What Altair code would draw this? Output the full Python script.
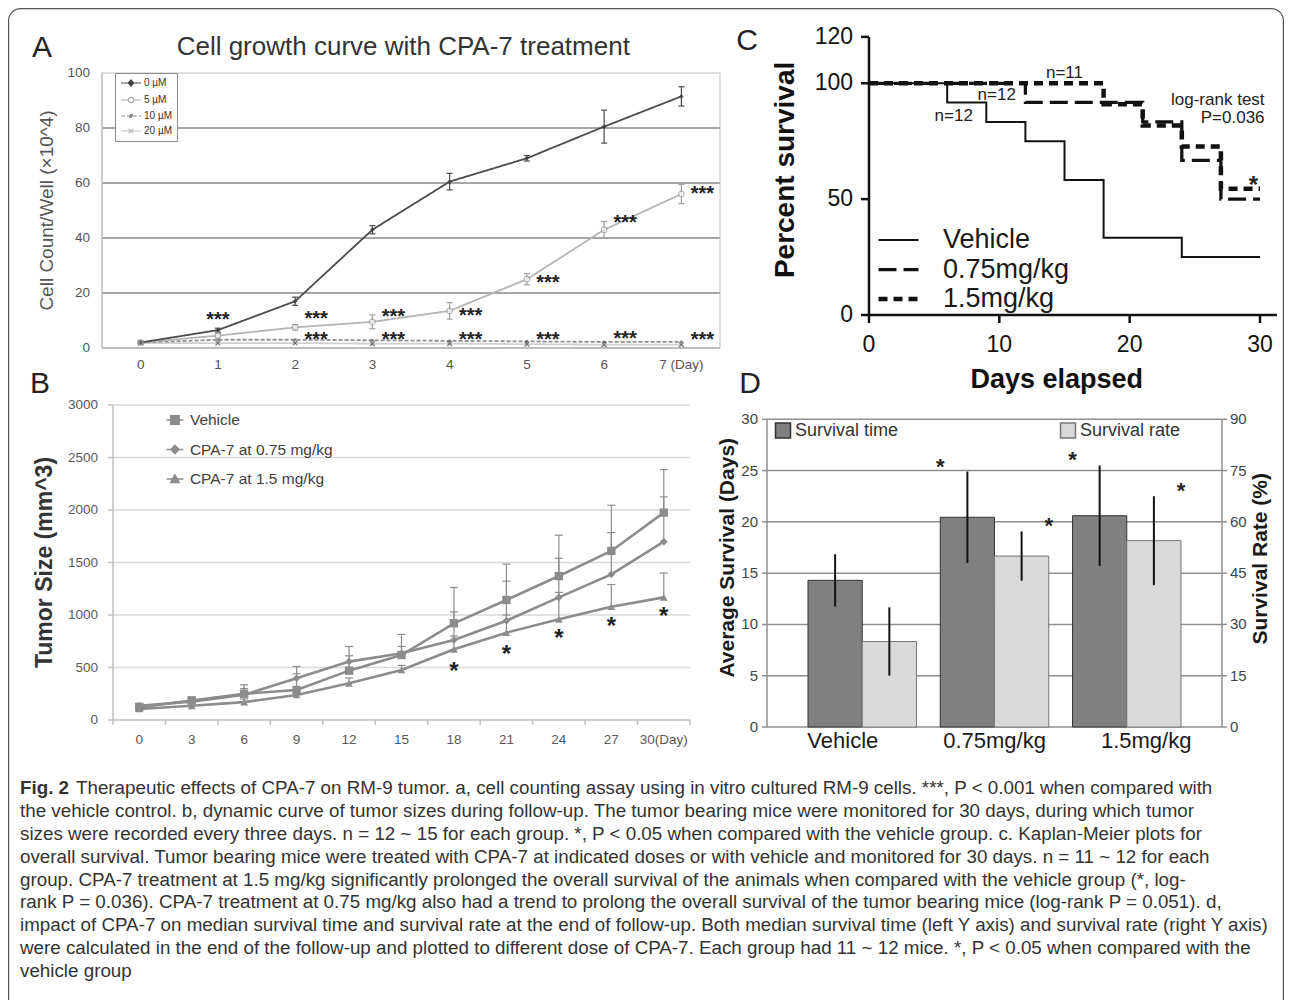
import altair as alt
import pandas as pd

# ===================== DATA =====================
# ---- Panel A: cell growth curve ----
A_DAYS = [0, 1, 2, 3, 4, 5, 6, 7]
A_DAY_LABELS = ["0", "1", "2", "3", "4", "5", "6", "7 (Day)"]
A_YTICKS = [0, 20, 40, 60, 80, 100]
A_GRID = [20, 40, 60, 80]
A_SERIES = ["0 µM", "5 µM", "10 µM", "20 µM"]
A_0UM = [2.0, 6.5, 17.0, 43.0, 60.5, 69.0, 80.5, 91.5]
A_0UM_ERR = [0.5, 0.7, 1.5, 1.5, 3.0, 1.0, 6.0, 3.5]
A_5UM = [2.0, 4.5, 7.5, 9.5, 13.5, 25.0, 43.0, 56.0]
A_5UM_ERR = [0.5, 0.8, 1.0, 2.5, 3.0, 2.0, 3.0, 3.5]
A_10UM = [2.0, 3.0, 3.0, 2.8, 2.6, 2.4, 2.2, 2.2]
A_20UM = [1.8, 1.8, 1.8, 1.6, 1.6, 1.4, 1.2, 1.2]
A_STAR_C_DAYS = [1]
A_STAR_C_Y = [12.0]
A_STAR_DAYS = [2, 3, 4, 5, 6, 7]
A_STAR_TOP = [12.4, 13.0, 13.4, 25.5, 47.4, 57.8]
A_STAR_LOW = [4.8, 4.8, 4.8, 4.8, 5.2, 4.8]

# ---- Panel B: tumor size ----
B_DAYS = [0, 3, 6, 9, 12, 15, 18, 21, 24, 27, 30]
B_DAY_LABELS = ["0", "3", "6", "9", "12", "15", "18", "21", "24", "27", "30(Day)"]
B_YTICKS = [0, 500, 1000, 1500, 2000, 2500, 3000]
B_XTICKS = [-1.5, 1.5, 4.5, 7.5, 10.5, 13.5, 16.5, 19.5, 22.5, 25.5, 28.5, 31.5]
B_SERIES = ["Vehicle", "CPA-7 at 0.75 mg/kg", "CPA-7 at 1.5 mg/kg"]
B_VEH = [120, 185, 250, 286, 470, 619, 921, 1143, 1371, 1610, 1975]
B_VEH_UP = [150, 220, 335, 510, 700, 815, 1262, 1485, 1760, 2045, 2385]
B_075 = [135, 175, 240, 397, 556, 635, 762, 946, 1168, 1387, 1698]
B_075_UP = [160, 205, 300, 440, 612, 700, 1030, 1322, 1540, 1785, 2125]
B_15 = [105, 135, 170, 238, 349, 476, 673, 832, 959, 1079, 1168]
B_15_UP = [125, 160, 200, 270, 400, 520, 800, 1000, 1215, 1290, 1400]
B_STAR_DAYS = [18, 21, 24, 27, 30]
B_STAR_Y = [514, 676, 829, 946, 1041]

# ---- Panel C: Kaplan-Meier ----
C_SERIES = ["Vehicle", "0.75mg/kg", "1.5mg/kg"]
C_VEH_T = [0, 6, 9, 12, 15, 18, 24, 30]
C_VEH_S = [100, 91.7, 83.3, 75.0, 58.3, 33.3, 25.0, 25.0]
C_075_T = [0, 12, 21, 24, 27, 30]
C_075_S = [100, 91.7, 83.3, 66.7, 50.0, 50.0]
C_15_T = [0, 18, 21, 24, 27, 30]
C_15_S = [100, 90.9, 81.8, 72.7, 54.5, 54.5]
C_XTICKS = [0, 10, 20, 30]
C_YTICKS = [0, 50, 100, 120]
C_NOTES = ["n=11", "n=12", "n=12"]
C_NOTE_T = [15.0, 9.8, 6.5]
C_NOTE_S = [104.3, 95.0, 86.0]
C_TEST = ["log-rank test", "P=0.036"]
C_TEST_T = [30.35, 30.35]
C_TEST_S = [92.8, 84.9]
C_STAR_T = [29.5]
C_STAR_S = [58.3]

# ---- Panel D: survival bars ----
D_GROUPS = ["Vehicle", "0.75mg/kg", "1.5mg/kg"]
D_SER = ["Survival time", "Survival rate"]
D_TIME = [14.3, 20.45, 20.6]
D_TIME_ERR = [2.55, 4.45, 4.9]
D_RATE = [25.0, 50.0, 54.5]
D_RATE_ERR = [10.0, 7.2, 13.0]
D_TIME_SIG = ["", "*", "*"]
D_RATE_SIG = ["", "*", "*"]
D_LTICKS = [0, 5, 10, 15, 20, 25, 30]
D_RTICKS = [0, 15, 30, 45, 60, 75, 90]

# ---- Caption ----
CAPTION_LEAD = "Fig. 2"
CAPTION = [
    "Therapeutic effects of CPA-7 on RM-9 tumor. a, cell counting assay using in vitro cultured RM-9 cells. ***, P < 0.001 when compared with",
    "the vehicle control. b, dynamic curve of tumor sizes during follow-up. The tumor bearing mice were monitored for 30 days, during which tumor",
    "sizes were recorded every three days. n = 12 ~ 15 for each group. *, P < 0.05 when compared with the vehicle group. c. Kaplan-Meier plots for",
    "overall survival. Tumor bearing mice were treated with CPA-7 at indicated doses or with vehicle and monitored for 30 days. n = 11 ~ 12 for each",
    "group. CPA-7 treatment at 1.5 mg/kg significantly prolonged the overall survival of the animals when compared with the vehicle group (*, log-",
    "rank P = 0.036). CPA-7 treatment at 0.75 mg/kg also had a trend to prolong the overall survival of the tumor bearing mice (log-rank P = 0.051). d,",
    "impact of CPA-7 on median survival time and survival rate at the end of follow-up. Both median survival time (left Y axis) and survival rate (right Y axis)",
    "were calculated in the end of the follow-up and plotted to different dose of CPA-7. Each group had 11 ~ 12 mice. *, P < 0.05 when compared with the",
    "vehicle group",
]

# ===================== helpers =====================
F = "Liberation Sans"


def S(domain, rng):
    return alt.Scale(domain=domain, range=rng, nice=False, zero=False)


def X(f, s):
    return alt.X(f, type="quantitative", scale=s, axis=None)


def Y(f, s):
    return alt.Y(f, type="quantitative", scale=s, axis=None)


L = []


def rule(data, xs, ys, x, y, x2=None, y2=None, **mk):
    enc = dict(x=X(x, xs), y=Y(y, ys))
    if x2:
        enc["x2"] = alt.X2(x2)
    if y2:
        enc["y2"] = alt.Y2(y2)
    L.append(alt.Chart(pd.DataFrame(data)).mark_rule(**mk).encode(**enc))


def text(data, xs, ys, x, y, t, **mk):
    L.append(alt.Chart(pd.DataFrame(data)).mark_text(**mk).encode(
        x=X(x, xs), y=Y(y, ys), text=alt.Text(t, type="nominal")))


# outer frame (decoration)
L.append(alt.Chart(pd.DataFrame({"k": [0]})).mark_rect(
    fillOpacity=0, stroke="#555555", strokeWidth=1.2, cornerRadius=12).encode(
    x=alt.value(0.6), x2=alt.value(1275.4), y=alt.value(0.6), y2=alt.value(1030)))

# ===================== Panel A =====================
AX = S([-0.5, 7.5], [94, 712])
AY = S([0, 100], [340, 65])

L.append(alt.Chart(pd.DataFrame({"x0": [-0.5], "x1": [7.5], "y0": [0], "y1": [100]})).mark_rect(
    fillOpacity=0, stroke="#d6d6d6", strokeWidth=1.5).encode(
    x=X("x0", AX), x2="x1", y=Y("y0", AY), y2="y1"))
rule({"v": A_GRID, "lo": -0.5, "hi": 7.5}, AX, AY, "lo", "v", x2="hi", color="#a6a6a6", strokeWidth=2)
rule({"lo": [-0.5], "hi": [7.5], "v": [0]}, AX, AY, "lo", "v", x2="hi", color="#bdbdbd", strokeWidth=2)
rule({"x": [-0.5], "lo": [0], "hi": [100]}, AX, AY, "x", "lo", y2="hi", color="#c4c4c4", strokeWidth=1.5)
text({"x": -0.5, "v": A_YTICKS, "t": [str(v) for v in A_YTICKS]}, AX, AY, "x", "v", "t",
     align="right", baseline="middle", dx=-12, font=F, fontSize=13.5, color="#555555")
text({"d": A_DAYS, "y": 0, "t": A_DAY_LABELS}, AX, AY, "d", "y", "t",
     align="center", baseline="middle", dy=17, font=F, fontSize=13.5, color="#555555")

A_COLORS = ["#4b4b4b", "#b4b4b4", "#8f8f8f", "#d0d0d0"]
A_DASHES = [[1, 0], [1, 0], [4, 2], [1, 0]]
a_long = pd.DataFrame({"series": [s for s in A_SERIES for _ in A_DAYS],
                       "day": A_DAYS * 4,
                       "v": A_0UM + A_5UM + A_10UM + A_20UM})
order = [3, 2, 1, 0]
for i in order:
    sub = a_long[a_long["series"] == A_SERIES[i]]
    L.append(alt.Chart(sub).mark_line(strokeWidth=1.8, color=A_COLORS[i], strokeDash=A_DASHES[i]).encode(
        x=X("day", AX), y=Y("v", AY)))

for vals, errs, col in [(A_5UM, A_5UM_ERR, "#a0a0a0"), (A_0UM, A_0UM_ERR, "#4b4b4b")]:
    d = {"day": A_DAYS, "lo": [v - e for v, e in zip(vals, errs)], "hi": [v + e for v, e in zip(vals, errs)]}
    rule(d, AX, AY, "day", "lo", y2="hi", color=col, strokeWidth=1.2)
    rule(d, AX, AY, "day", "hi", x2="day", xOffset=-3, x2Offset=3, color=col, strokeWidth=1.2)
    rule(d, AX, AY, "day", "lo", x2="day", xOffset=-3, x2Offset=3, color=col, strokeWidth=1.2)

L.append(alt.Chart(pd.DataFrame({"day": A_DAYS, "v": A_20UM})).mark_point(
    shape="M-1,-1L1,1M-1,1L1,-1", size=22, stroke="#444444", strokeWidth=1.3).encode(
    x=X("day", AX), y=Y("v", AY)))
L.append(alt.Chart(pd.DataFrame({"day": A_DAYS, "v": A_10UM})).mark_point(
    shape="circle", filled=True, size=8, color="#555555").encode(x=X("day", AX), y=Y("v", AY)))
L.append(alt.Chart(pd.DataFrame({"day": A_DAYS, "v": A_5UM})).mark_point(
    shape="circle", filled=True, fill="#ffffff", stroke="#9a9a9a", strokeWidth=1.2, size=32).encode(
    x=X("day", AX), y=Y("v", AY)))
L.append(alt.Chart(pd.DataFrame({"day": A_DAYS, "v": A_0UM})).mark_point(
    shape="diamond", filled=True, size=24, color="#3a3a3a").encode(x=X("day", AX), y=Y("v", AY)))

astar = dict(align="center", baseline="alphabetic", font=F, fontWeight="bold", fontSize=20, color="#222222")
text({"d": A_STAR_C_DAYS, "v": A_STAR_C_Y, "t": "***"}, AX, AY, "d", "v", "t", dy=11, **astar)
text({"d": A_STAR_DAYS, "v": A_STAR_TOP, "t": "***"}, AX, AY, "d", "v", "t", dx=21, dy=11, **astar)
text({"d": A_STAR_DAYS, "v": A_STAR_LOW, "t": "***"}, AX, AY, "d", "v", "t", dx=21, dy=11, **astar)

A_LEG_PATHS = ["M-1,0H4M1.5,-0.75L2.2,0L1.5,0.75L0.8,0Z",
               "M-1,0H0.85M2.15,0H4M0.85,0A0.65,0.65 0 1,1 2.15,0A0.65,0.65 0 1,1 0.85,0Z",
               "M-1,0H4M1.2,-0.35H1.8V0.35H1.2Z",
               "M-1,0H4M0.9,-0.6L2.1,0.6M0.9,0.6L2.1,-0.6"]
A_LEG_FILL = ["#3a3a3a", "#ffffff", "#666666", "#ffffff"]
A_LEG_STROKE = ["#4b4b4b", "#a8a8a8", "#8f8f8f", "#bdbdbd"]
legA = alt.Legend(orient="none", legendX=107, legendY=65, title=None, labelFont=F, labelFontSize=10,
                  labelColor="#333333", labelOffset=14, rowPadding=5, padding=5, strokeColor="#8a8a8a",
                  fillColor="#ffffff", symbolSize=64, symbolStrokeWidth=1.2)
L.append(alt.Chart(a_long).transform_filter("false").mark_point(size=64, strokeWidth=1.2, opacity=1).encode(
    x=X("day", AX), y=Y("v", AY),
    shape=alt.Shape("series:N", scale=alt.Scale(domain=A_SERIES, range=A_LEG_PATHS), legend=legA),
    fill=alt.Fill("series:N", scale=alt.Scale(domain=A_SERIES, range=A_LEG_FILL), legend=legA),
    stroke=alt.Stroke("series:N", scale=alt.Scale(domain=A_SERIES, range=A_LEG_STROKE), legend=legA),
    strokeDash=alt.StrokeDash("series:N", scale=alt.Scale(domain=A_SERIES, range=A_DASHES), legend=legA)))

text({"x": [-0.5], "y": [100], "t": ["A"]}, AX, AY, "x", "y", "t", dx=-60, dy=-25,
     align="center", baseline="middle", font=F, fontSize=30, color="#222222")
text({"x": [3.4], "y": [100], "t": ["Cell growth curve with CPA-7 treatment"]}, AX, AY, "x", "y", "t", dy=-26,
     align="center", baseline="middle", font=F, fontSize=26, color="#333333")
# rotated 270deg: dy shifts horizontally (negative = left)
text({"x": [-0.5], "y": [50], "t": ["Cell Count/Well (×10^4)"]}, AX, AY, "x", "y", "t", dy=-55, angle=270,
     align="center", baseline="middle", font=F, fontSize=19, color="#555555")

# ===================== Panel B =====================
BX = S([-1.5, 31.5], [105, 682])
BY = S([0, 3000], [712, 397])
rule({"v": B_YTICKS[1:], "lo": -1.5, "hi": 31.5}, BX, BY, "lo", "v", x2="hi", color="#d9d9d9", strokeWidth=1.5)
rule({"lo": [-1.5], "hi": [31.5], "v": [0]}, BX, BY, "lo", "v", x2="hi", color="#bfbfbf", strokeWidth=1.5)
rule({"x": [-1.5], "lo": [0], "hi": [3000]}, BX, BY, "x", "lo", y2="hi", color="#bfbfbf", strokeWidth=1.5)
rule({"x": B_XTICKS, "v": 0}, BX, BY, "x", "v", y2="v", y2Offset=5, color="#bfbfbf", strokeWidth=1.5)
rule({"x": -1.5, "v": B_YTICKS}, BX, BY, "x", "v", x2="x", x2Offset=-5, color="#bfbfbf", strokeWidth=1.5)
text({"x": -1.5, "v": B_YTICKS, "t": [str(v) for v in B_YTICKS]}, BX, BY, "x", "v", "t",
     align="right", baseline="middle", dx=-15, font=F, fontSize=13.5, color="#595959")
text({"d": B_DAYS, "y": 0, "t": B_DAY_LABELS}, BX, BY, "d", "y", "t",
     align="center", baseline="middle", dy=20, font=F, fontSize=13.5, color="#595959")

BG = "#8c8c8c"
b_long = pd.DataFrame({"series": [s for s in B_SERIES for _ in B_DAYS],
                       "day": B_DAYS * 3,
                       "v": B_VEH + B_075 + B_15,
                       "up": B_VEH_UP + B_075_UP + B_15_UP})
rule(b_long, BX, BY, "day", "v", y2="up", color=BG, strokeWidth=1.2)
rule(b_long, BX, BY, "day", "up", x2="day", xOffset=-4, x2Offset=4, color=BG, strokeWidth=1.2)
L.append(alt.Chart(b_long).mark_line(color=BG, strokeWidth=2.6).encode(
    x=X("day", BX), y=Y("v", BY), detail=alt.Detail("series:N")))
for ser, shp, sz in [(B_SERIES[0], "square", 70), (B_SERIES[1], "diamond", 60), (B_SERIES[2], "triangle-up", 60)]:
    L.append(alt.Chart(b_long[b_long["series"] == ser]).mark_point(
        shape=shp, filled=True, size=sz, color=BG, opacity=1).encode(x=X("day", BX), y=Y("v", BY)))
star = dict(align="center", baseline="alphabetic", font=F, fontWeight="bold", fontSize=24, color="#222222")
text({"d": B_STAR_DAYS, "v": B_STAR_Y, "t": "*"}, BX, BY, "d", "v", "t", dy=13, **star)

B_LEG_PATHS = ["M-1,0H2.2M-0.2,-0.8H1.4V0.8H-0.2Z",
               "M-1,0H2.2M0.6,-0.8L1.35,0L0.6,0.8L-0.15,0Z",
               "M-1,0H2.2M0.6,-0.8L1.4,0.65H-0.2Z"]
legB = alt.Legend(orient="none", legendX=156, legendY=404.25, title=None, labelFont=F, labelFontSize=15.5,
                  labelColor="#404040", labelOffset=10.4, rowPadding=12.5, padding=0, symbolSize=112)
L.append(alt.Chart(b_long).transform_filter("false").mark_point(
    filled=True, size=112, fill=BG, stroke=BG, strokeWidth=1.8, opacity=1).encode(
    x=X("day", BX), y=Y("v", BY),
    shape=alt.Shape("series:N", scale=alt.Scale(domain=B_SERIES, range=B_LEG_PATHS), legend=legB)))

text({"x": [-1.5], "y": [3000], "t": ["B"]}, BX, BY, "x", "y", "t", dx=-73, dy=-21,
     align="center", baseline="middle", font=F, fontSize=30, color="#222222")
text({"x": [-1.5], "y": [1500], "t": ["Tumor Size (mm^3)"]}, BX, BY, "x", "y", "t", dy=-68.5, angle=270,
     align="center", baseline="middle", font=F, fontSize=23, fontWeight="bold", color="#333333")

# ===================== Panel C =====================
CX = S([0, 30], [861, 1252])
CY = S([0, 120], [307, 28.9])
c_long = pd.DataFrame({"series": ["Vehicle"] * len(C_VEH_T) + ["0.75mg/kg"] * len(C_075_T) + ["1.5mg/kg"] * len(C_15_T),
                       "t": C_VEH_T + C_075_T + C_15_T,
                       "s": C_VEH_S + C_075_S + C_15_S})
legC = alt.Legend(orient="none", legendX=867, legendY=218.5, title=None, labelFont=F, labelFontSize=27,
                  labelColor="#1a1a1a", labelOffset=41, rowPadding=1.5, padding=0,
                  symbolType="M-1,0H3", symbolSize=400)
L.append(alt.Chart(c_long).mark_line(interpolate="step-after", color="#111111").encode(
    x=X("t", CX), y=Y("s", CY),
    strokeDash=alt.StrokeDash("series:N", scale=alt.Scale(domain=C_SERIES, range=[[1, 0], [18, 7], [9, 6]]), legend=legC),
    strokeWidth=alt.StrokeWidth("series:N", scale=alt.Scale(domain=C_SERIES, range=[2, 4.5, 4.5]), legend=legC)))
rule({"lo": [0], "hi": [31.3], "v": [0]}, CX, CY, "lo", "v", x2="hi", color="#111111", strokeWidth=2.5)
rule({"x": [0], "lo": [0], "hi": [120]}, CX, CY, "x", "lo", y2="hi", color="#111111", strokeWidth=2.5)
rule({"x": C_XTICKS, "v": 0}, CX, CY, "x", "v", y2="v", y2Offset=8, color="#111111", strokeWidth=2.5)
rule({"x": 0, "v": C_YTICKS}, CX, CY, "x", "v", x2="x", x2Offset=-8, color="#111111", strokeWidth=2.5)
text({"x": C_XTICKS, "v": 0, "t": [str(v) for v in C_XTICKS]}, CX, CY, "x", "v", "t",
     align="center", baseline="middle", dy=30, font=F, fontSize=23, color="#111111")
text({"x": 0, "v": C_YTICKS, "t": [str(v) for v in C_YTICKS]}, CX, CY, "x", "v", "t",
     align="right", baseline="middle", dx=-16, font=F, fontSize=23, color="#111111")
text({"x": [14.4], "v": [0], "t": ["Days elapsed"]}, CX, CY, "x", "v", "t",
     align="center", baseline="middle", dy=65, font=F, fontSize=27, fontWeight="bold", color="#111111")
text({"x": [0], "v": [62.6], "t": ["Percent survival"]}, CX, CY, "x", "v", "t", dy=-83, angle=270,
     align="center", baseline="middle", font=F, fontSize=28, fontWeight="bold", color="#111111")
text({"x": C_NOTE_T, "v": C_NOTE_S, "t": C_NOTES}, CX, CY, "x", "v", "t",
     align="center", baseline="middle", font=F, fontSize=17, color="#222222")
text({"x": C_TEST_T, "v": C_TEST_S, "t": C_TEST}, CX, CY, "x", "v", "t",
     align="right", baseline="middle", font=F, fontSize=17, color="#222222")
text({"x": C_STAR_T, "v": C_STAR_S, "t": "*"}, CX, CY, "x", "v", "t", dy=13, **star)
text({"x": [0], "v": [120], "t": ["C"]}, CX, CY, "x", "v", "t", dx=-122, dy=4,
     align="center", baseline="middle", font=F, fontSize=30, color="#222222")

# ===================== Panel D =====================
DXQ = S([0, 1], [759, 1214])
DXB = alt.Scale(domain=D_GROUPS, range=[759, 1214], paddingInner=0.18, paddingOuter=0.31)
DYL = S([0, 30], [719, 411.3])
DYR = S([0, 90], [719, 411.3])
DOFF = alt.Scale(domain=D_SER, paddingInner=0, paddingOuter=0)
DG = "#8f8f8f"
rule({"v": D_LTICKS[1:], "lo": 0, "hi": 1}, DXQ, DYL, "lo", "v", x2="hi", color=DG, strokeWidth=1.5)
rule({"lo": [0], "hi": [1], "v": [0]}, DXQ, DYL, "lo", "v", x2="hi", color=DG, strokeWidth=1.5)
rule({"x": [0, 1], "lo": 0, "hi": 30}, DXQ, DYL, "x", "lo", y2="hi", color=DG, strokeWidth=1.5)
rule({"x": 0, "v": D_LTICKS}, DXQ, DYL, "x", "v", x2="x", x2Offset=-5, color=DG, strokeWidth=1.5)
rule({"x": 1, "v": D_RTICKS}, DXQ, DYR, "x", "v", x2="x", x2Offset=5, color=DG, strokeWidth=1.5)
text({"x": 0, "v": D_LTICKS, "t": [str(v) for v in D_LTICKS]}, DXQ, DYL, "x", "v", "t",
     align="right", baseline="middle", dx=-9, font=F, fontSize=15, color="#444444")
text({"x": 1, "v": D_RTICKS, "t": [str(v) for v in D_RTICKS]}, DXQ, DYR, "x", "v", "t",
     align="left", baseline="middle", dx=8, font=F, fontSize=15, color="#444444")

for ser, vals, errs, sig, ys, fillc, strokec, lx in [
        (D_SER[0], D_TIME, D_TIME_ERR, D_TIME_SIG, DYL, "#808080", "#333333", 766),
        (D_SER[1], D_RATE, D_RATE_ERR, D_RATE_SIG, DYR, "#d9d9d9", "#777777", 1051)]:
    dd = pd.DataFrame({"group": D_GROUPS, "series": ser, "v": vals, "base": 0,
                       "lo": [v - e for v, e in zip(vals, errs)],
                       "hi": [v + e for v, e in zip(vals, errs)], "sig": sig})
    legD = alt.Legend(orient="none", legendX=lx, legendY=413.5, title=None, labelFont=F, labelFontSize=18,
                      labelColor="#333333", labelOffset=3, padding=0, symbolType="square", symbolSize=225)
    xb = alt.X("group:N", scale=DXB, axis=None)
    xo = alt.XOffset("series:N", scale=DOFF)
    L.append(alt.Chart(dd).mark_bar(stroke=strokec, strokeWidth=1).encode(
        x=xb, xOffset=xo, y=Y("v", ys), y2="base",
        color=alt.Color("series:N", scale=alt.Scale(domain=[ser], range=[fillc]), legend=legD)))
    L.append(alt.Chart(dd).mark_rule(color="#111111", strokeWidth=2).encode(
        x=xb, xOffset=xo, y=Y("lo", ys), y2="hi"))
    L.append(alt.Chart(dd).mark_text(align="center", baseline="alphabetic", dy=2, font=F, fontWeight="bold",
                                     fontSize=22, color="#222222").encode(
        x=xb, xOffset=xo, y=Y("hi", ys), text=alt.Text("sig", type="nominal")))

L.append(alt.Chart(pd.DataFrame({"group": D_GROUPS, "y": 0})).mark_text(
    align="center", baseline="middle", dy=14, font=F, fontSize=22, color="#1a1a1a").encode(
    x=alt.X("group:N", scale=DXB, axis=None), y=Y("y", DYL), text=alt.Text("group", type="nominal")))
text({"x": [0], "v": [16.5], "t": ["Average Survival (Days)"]}, DXQ, DYL, "x", "v", "t", dy=-39, angle=270,
     align="center", baseline="middle", font=F, fontSize=21, fontWeight="bold", color="#1a1a1a")
text({"x": [1], "v": [16.4], "t": ["Survival Rate (%)"]}, DXQ, DYL, "x", "v", "t", dy=39, angle=270,
     align="center", baseline="middle", font=F, fontSize=21, fontWeight="bold", color="#1a1a1a")
text({"x": [0], "v": [30], "t": ["D"]}, DXQ, DYL, "x", "v", "t", dx=-17, dy=-35,
     align="center", baseline="middle", font=F, fontSize=30, color="#222222")

# ===================== Caption =====================
CAP_X = S([0, 1], [12, 1276])
CAP_Y = S([0, 8], [780, 963])
cap_style = dict(align="left", baseline="middle", font=F, fontSize=18.8, color="#333333")
text({"x": [0], "i": [0], "t": [CAPTION_LEAD]}, CAP_X, CAP_Y, "x", "i", "t", fontWeight="bold", **cap_style)
text({"x": [0], "i": [0], "t": [CAPTION[0]]}, CAP_X, CAP_Y, "x", "i", "t", dx=56, **cap_style)
text({"x": 0, "i": list(range(1, 9)), "t": CAPTION[1:]}, CAP_X, CAP_Y, "x", "i", "t", **cap_style)

# ===================== assemble =====================
chart = alt.layer(*L).resolve_scale(
    x="independent", y="independent", color="independent", shape="independent",
    strokeDash="independent", strokeWidth="independent", fill="independent",
    stroke="independent", xOffset="independent").resolve_legend(
    color="independent", shape="independent", strokeDash="independent",
    strokeWidth="independent", fill="independent", stroke="independent").properties(
    width=1276, height=992, padding=0, autosize=alt.AutoSizeParams(type="none"),
    background="white").configure_view(stroke=None)

chart.save("out.html", embed_options={"renderer": "svg", "actions": False})
